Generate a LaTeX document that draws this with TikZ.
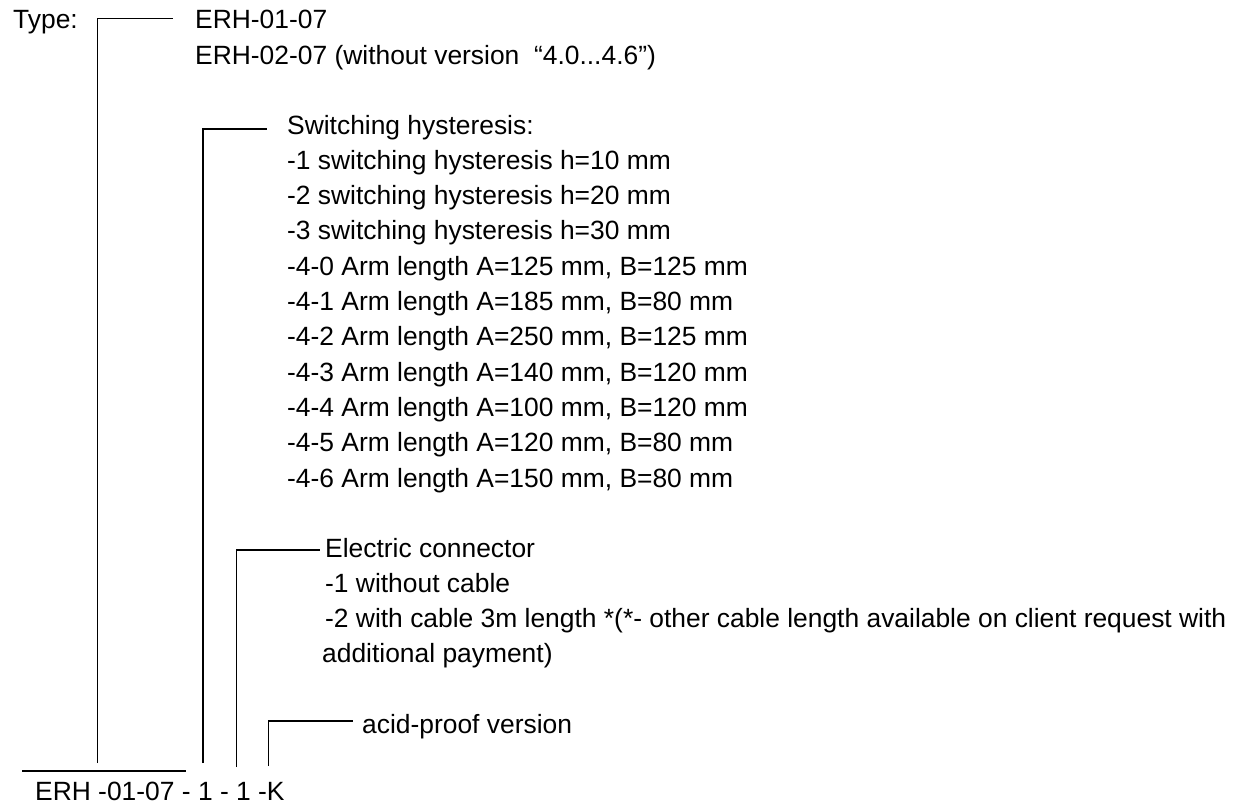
\documentclass[tikz,border=0pt]{standalone}
\usepackage{fontspec}
\setmainfont{Liberation Sans}
\begin{document}
\begin{tikzpicture}[x=1pt,y=-1pt,
  lbl/.style={anchor=base west,inner sep=0pt,font=\fontsize{26.4}{30}\selectfont},
  brk/.style={draw=black,line width=1.2pt}]
\useasboundingbox (0,0) rectangle (1250,808);
% texts
\node[lbl] (type) at (13,29) {Type:};
\node[lbl] (t1) at (195,29) {ERH-01-07};
\node[lbl] (t2) at (195,64) {ERH-02-07 (without version\ \ “4.0...4.6”)};
\node[lbl] (sh) at (287,134) {Switching hysteresis:};
\node[lbl] (s1) at (287,169.3) {-1 switching hysteresis h=10 mm};
\node[lbl] (s2) at (287,204.6) {-2 switching hysteresis h=20 mm};
\node[lbl] (s3) at (287,239.9) {-3 switching hysteresis h=30 mm};
\node[lbl] (a0) at (287,275.2) {-4-0 Arm length A=125 mm, B=125 mm};
\node[lbl] (a1) at (287,310.5) {-4-1 Arm length A=185 mm, B=80 mm};
\node[lbl] (a2) at (287,345.8) {-4-2 Arm length A=250 mm, B=125 mm};
\node[lbl] (a3) at (287,381.1) {-4-3 Arm length A=140 mm, B=120 mm};
\node[lbl] (a4) at (287,416.4) {-4-4 Arm length A=100 mm, B=120 mm};
\node[lbl] (a5) at (287,451.7) {-4-5 Arm length A=120 mm, B=80 mm};
\node[lbl] (a6) at (287,487) {-4-6 Arm length A=150 mm, B=80 mm};
\node[lbl] (ec) at (325,557) {Electric connector};
\node[lbl] (e1) at (325,592) {-1 without cable};
\node[lbl] (e2) at (325,627) {-2 with cable 3m length *(*- other cable length available on client request with};
\node[lbl] (e3) at (322,662) {additional payment)};
\node[lbl] (ap) at (362,733) {acid-proof version};
\node[lbl] (code) at (35,800) {ERH -01-07 - 1 - 1 -K};
% bracket coordinates
\coordinate (tb) at (97.7,763);
\coordinate (tc) at (97.7,18.7);
\coordinate (te) at (173,18.7);
\coordinate (sb) at (203,763);
\coordinate (sc) at (203,129);
\coordinate (se) at (267,129);
\coordinate (eb) at (236.5,767);
\coordinate (ecn) at (236.5,550);
\coordinate (ee) at (320,550);
\coordinate (ab) at (268.3,766);
\coordinate (ac) at (268.3,721);
\coordinate (ae) at (353,721);
\coordinate (ul) at (22,771);
\coordinate (ur) at (186,771);
% brackets
\draw[brk] (tb) -- (tc) -- (te);
\draw[brk] (sb) -- (sc) -- (se);
\draw[brk] (eb) -- (ecn) -- (ee);
\draw[brk] (ab) -- (ac) -- (ae);
\draw[brk] (ul) -- (ur);
\end{tikzpicture}
\end{document}
